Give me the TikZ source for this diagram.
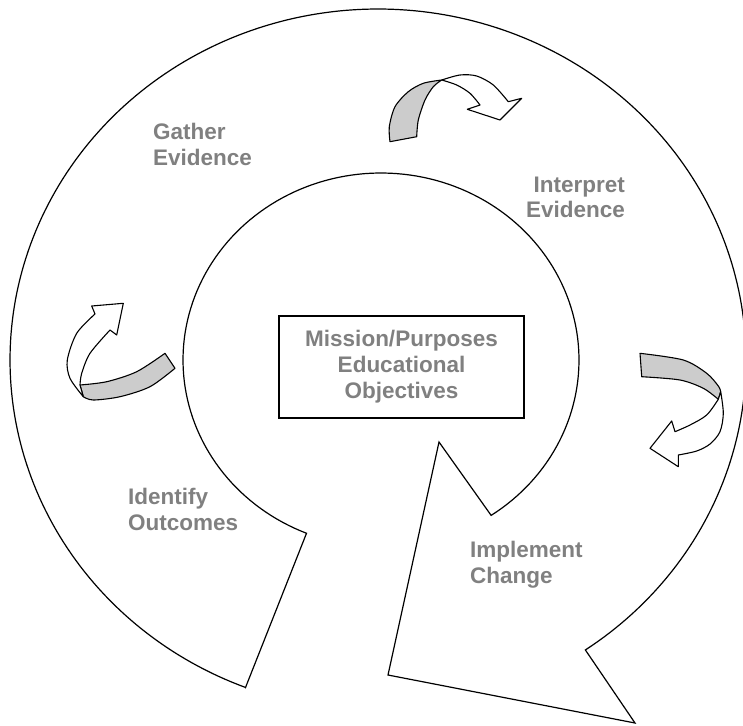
\documentclass[tikz,border=0pt]{standalone}
\usepackage{fontspec}
\setmainfont{Liberation Sans}
\definecolor{labelgray}{RGB}{128,128,128}
\definecolor{bandgray}{RGB}{204,204,204}
\begin{document}
\begin{tikzpicture}[x=1pt,y=-1pt,
  outline/.style={draw=black,line width=1.2pt,line join=miter},
  ribbon/.style={draw=black,line width=1.1pt,fill=white,line join=round},
  band/.style={draw=black,line width=1.1pt,fill=bandgray,line join=round},
  lbl/.style={text=labelgray,font=\fontsize{22.5}{26}\selectfont\bfseries,inner sep=0pt},
  box/.style={draw=black,line width=1.2pt,minimum width=245pt,minimum height=102pt,
    align=center,inner sep=0pt}]
\useasboundingbox (0,0) rectangle (743,725);

% corners of the big circular arrow
\coordinate (tailO) at ({378+368*cos(111.1)},{360+351*sin(111.1)});
\coordinate (tailI) at ({381+198*cos(112.1)},{360+187*sin(112.1)});
\coordinate (notchI) at ({381+198*cos(416.2)},{360+187*sin(416.2)});
\coordinate (notchTop) at (439,442);
\coordinate (headTip) at (388,675);
\coordinate (headBarb) at (635,723);
\coordinate (headO) at ({378+368*cos(55.7)},{360+351*sin(55.7)});

% big circular arrow: inner arc, arrow head, outer arc
\draw[outline] (tailO) -- (tailI)
  -- plot[domain=112.1:416.2,samples=160] ({381+198*cos(\x)},{360+187*sin(\x)})
  -- (notchI) -- (notchTop) -- (headTip) -- (headBarb) -- (headO)
  -- plot[domain=55.7:-248.9,samples=260] ({378+368*cos(\x)},{360+351*sin(\x)})
  -- cycle;

% centre box
\node[box,lbl] (mission) at (401.5,367) {Mission/Purposes\\Educational\\Objectives};

% stage labels
\node[lbl,anchor=base west] (gatherA) at (153,139) {Gather};
\node[lbl,anchor=base west] (gatherB) at (153,165) {Evidence};
\node[lbl,anchor=base east] (interpA) at (625,192) {Interpret};
\node[lbl,anchor=base east] (interpB) at (625,217) {Evidence};
\node[lbl,anchor=base west] (implA) at (470,557) {Implement};
\node[lbl,anchor=base west] (implB) at (470,583) {Change};
\node[lbl,anchor=base west] (identA) at (128,504) {Identify};
\node[lbl,anchor=base west] (identB) at (128,530) {Outcomes};

% twisted ribbon arrow, top
\filldraw[band] plot[smooth] coordinates {(390,141.7) (389.3,126.7) (395,106.7) (408.3,91.7) (423.3,83.3) (441.7,80)}
  -- plot[smooth] coordinates {(441.7,80) (433.3,86.7) (425,100) (418.3,120) (416.7,136.7)} -- cycle;
\filldraw[ribbon] plot[smooth] coordinates {(441.7,80) (460,75) (476.7,76) (493.3,85) (508.3,101.7)}
  -- (521.7,98.3) -- (500,120) -- (467.3,109.3) -- (480,105)
  -- plot[smooth] coordinates {(480,105) (470,93.3) (456.7,85) (441.7,80)} -- cycle;

% twisted ribbon arrow, left
\filldraw[band] plot[smooth] coordinates {(80,385) (106.7,381.7) (136.7,371.7) (165,353.3)}
  -- (175,368.3)
  -- plot[smooth] coordinates {(175,368.3) (150,386.7) (120,396.7) (93.3,400) (83.3,396.7)} -- cycle;
\filldraw[ribbon] plot[smooth] coordinates {(83.3,396.7) (70,378.3) (67.3,360) (76.7,333.3) (95,314)}
  -- (91.7,306) -- (123.3,303.3) -- (116.7,335) -- (110,330)
  -- plot[smooth] coordinates {(110,330) (90,353.3) (81.7,373.3) (80,385)} -- cycle;

% twisted ribbon arrow, right
\filldraw[band] plot[smooth] coordinates {(640,353.3) (683.3,360) (706.7,373.3) (718.3,386) (720.7,391.7)}
  -- (718.3,399.3)
  -- plot[smooth] coordinates {(718.3,399.3) (703.3,388.3) (680,380) (641.7,376.7)} -- cycle;
\filldraw[ribbon] plot[smooth] coordinates {(720.7,391.7) (723.3,413.3) (720,431.7) (710,444) (696.7,451) (678.3,455)}
  -- (678.3,466.7) -- (650,448.3) -- (671.7,421) -- (675,431.7)
  -- plot[smooth] coordinates {(675,431.7) (690,425) (706.7,415) (718.3,399.3)} -- cycle;
\end{tikzpicture}
\end{document}
